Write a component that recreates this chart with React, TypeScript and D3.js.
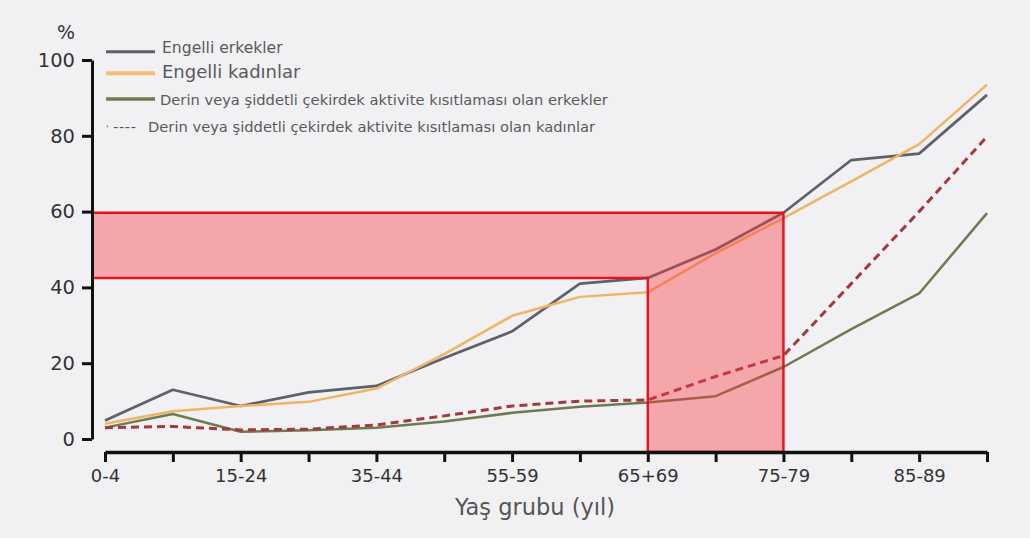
import React, { useEffect, useRef } from "react";
import * as d3 from "d3";

const categories = ["0-4", "5-14", "15-24", "25-34", "35-44", "45-54", "55-59", "60-64", "65+69", "70-74", "75-79", "80-84", "85-89", "90+"];
const labelledTicks = ["0-4", "15-24", "35-44", "55-59", "65+69", "75-79", "85-89"];
const yTicks = [0, 20, 40, 60, 80, 100];

const engelliErkekler = [4.9, 13, 8.7, 12.3, 14, 21.4, 28.4, 41, 42.5, 50, 59.7, 73.6, 75.3, 90.8];
const engelliKadinlar = [4, 7.3, 8.7, 9.8, 13.3, 22.4, 32.5, 37.5, 38.7, 49, 58.3, 68, 77.8, 93.5];
const kisitliErkekler = [3, 6.6, 1.9, 2.3, 3, 4.6, 6.9, 8.5, 9.6, 11.3, 19, 29, 38.4, 59.6];
const kisitliKadinlar = [3, 3.3, 2.4, 2.6, 3.7, 6.1, 8.7, 10, 10.3, 16.5, 22, 41, 60, 79.8];

const legendLabels = [
  "Engelli erkekler",
  "Engelli kadınlar",
  "Derin veya şiddetli çekirdek aktivite kısıtlaması olan erkekler",
  "Derin veya şiddetli çekirdek aktivite kısıtlaması olan kadınlar",
];
const highlightFrom = "65+69";
const highlightTo = "75-79";

const FONT = "'DejaVu Sans', Verdana, sans-serif";

export default function App() {
  const ref = useRef<SVGSVGElement | null>(null);

  useEffect(() => {
    const svg = d3.select(ref.current);
    svg.selectAll("*").remove();

    const x = d3.scalePoint<string>().domain(categories).range([105, 987]);
    const y = d3.scaleLinear().domain([0, 100]).range([439, 60]);
    const axisX = 92;
    const axisY = 452;

    svg.append("rect").attr("width", 1030).attr("height", 538).attr("fill", "#f1f1f3");

    const series = [
      { values: engelliErkekler, color: "#5e6169", width: 2.7, dash: null },
      { values: engelliKadinlar, color: "#efb467", width: 2.5, dash: null },
      { values: kisitliErkekler, color: "#6d7b50", width: 2.5, dash: null },
      { values: kisitliKadinlar, color: "#a3383f", width: 3, dash: "8,5" },
    ];

    const line = d3
      .line<number>()
      .x((_, i) => x(categories[i]) as number)
      .y((d) => y(d));

    series.forEach((s) => {
      svg
        .append("path")
        .attr("d", line(s.values) as string)
        .attr("fill", "none")
        .attr("stroke", s.color)
        .attr("stroke-width", s.width)
        .attr("stroke-linejoin", "round")
        .attr("stroke-dasharray", s.dash);
    });

    // highlight region
    const iFrom = categories.indexOf(highlightFrom);
    const iTo = categories.indexOf(highlightTo);
    const x1 = x(highlightFrom) as number;
    const x2 = x(highlightTo) as number;
    const yTop = y(engelliErkekler[iTo]);
    const yBot = y(engelliErkekler[iFrom]);
    const pts: [number, number][] = [
      [axisX + 1.5, yTop],
      [x2, yTop],
      [x2, axisY],
      [x1, axisY],
      [x1, yBot],
      [axisX + 1.5, yBot],
    ];
    svg
      .append("path")
      .attr("d", "M" + pts.map((p) => p.join(",")).join("L") + "Z")
      .attr("fill", "rgba(250,55,62,0.4)")
      .attr("stroke", "none");
    svg
      .append("path")
      .attr("d", "M" + pts.map((p) => p.join(",")).join("L"))
      .attr("fill", "none")
      .attr("stroke", "#e3141f")
      .attr("stroke-width", 2.4);

    // axes
    const gy = svg
      .append("g")
      .attr("transform", `translate(${axisX},0)`)
      .call(d3.axisLeft(y).tickValues(yTicks).tickSize(10).tickSizeOuter(0).tickPadding(7));
    gy.select(".domain").attr("stroke", "#111").attr("stroke-width", 3);
    gy.selectAll(".tick line").attr("stroke", "#111").attr("stroke-width", 3);
    gy.selectAll(".tick text")
      .attr("font-family", FONT)
      .attr("font-size", 19.5)
      .attr("fill", "#333");

    const gx = svg
      .append("g")
      .attr("transform", `translate(0,${axisY})`)
      .call(
        d3
          .axisBottom(x)
          .tickSize(10)
          .tickSizeOuter(0)
          .tickPadding(7)
          .tickFormat((d) => (labelledTicks.includes(d) ? d : ""))
      );
    gx.select(".domain").attr("stroke", "#111").attr("stroke-width", 3.5);
    gx.selectAll(".tick line").attr("stroke", "#111").attr("stroke-width", 3);
    gx.selectAll(".tick text")
      .attr("font-family", FONT)
      .attr("font-size", 18)
      .attr("fill", "#333");

    svg
      .append("text")
      .attr("x", 66)
      .attr("y", 39)
      .attr("text-anchor", "middle")
      .attr("font-family", FONT)
      .attr("font-size", 19)
      .attr("fill", "#333")
      .text("%");

    svg
      .append("text")
      .attr("x", 535)
      .attr("y", 515)
      .attr("text-anchor", "middle")
      .attr("font-family", FONT)
      .attr("font-size", 22.5)
      .attr("fill", "#555")
      .text("Yaş grubu (yıl)");

    // legend
    const legendItems = [
      { color: "#5e6169", lineY: 51.7, textY: 53, size: 15.6, width: 3, x: 162 },
      { color: "#f3bd78", lineY: 73.3, textY: 78, size: 18, width: 4, x: 162 },
      { color: "#6d7b50", lineY: 99, textY: 104.5, size: 14.7, width: 3.5, x: 160 },
    ];
    legendItems.forEach((it, i) => {
      svg
        .append("line")
        .attr("x1", 106)
        .attr("x2", 155)
        .attr("y1", it.lineY)
        .attr("y2", it.lineY)
        .attr("stroke", it.color)
        .attr("stroke-width", it.width);
      svg
        .append("text")
        .attr("x", it.x)
        .attr("y", it.textY)
        .attr("font-family", FONT)
        .attr("font-size", it.size)
        .attr("fill", "#5a5a5a")
        .text(legendLabels[i]);
    });
    const t4 = svg
      .append("text")
      .attr("y", 131.5)
      .attr("font-family", FONT)
      .attr("font-size", 14.7)
      .attr("fill", "#5a5a5a");
    t4.append("tspan").attr("x", 106).attr("font-size", 9).text("'");
    t4.append("tspan").attr("x", 113).attr("letter-spacing", 0.6).text("----");
    t4.append("tspan").attr("x", 148).text(legendLabels[3]);
  }, []);

  return (
    <svg
      ref={ref}
      width={1030}
      height={538}
      style={{ position: "absolute", left: 0, top: 0, display: "block" }}
    />
  );
}
